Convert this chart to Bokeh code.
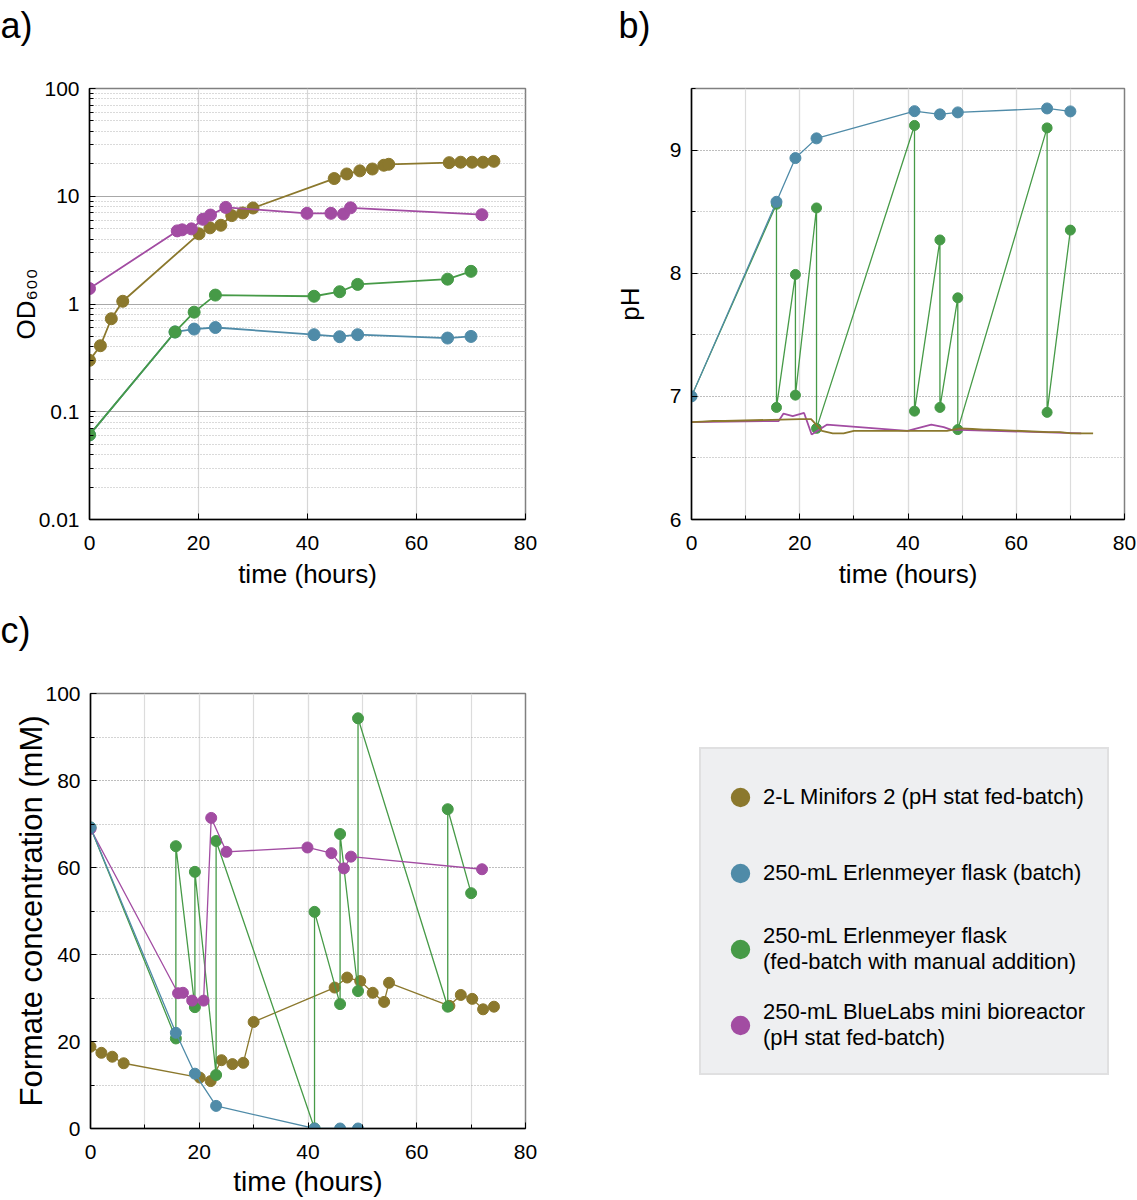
from bokeh.plotting import figure
from bokeh.layouts import column, row
from bokeh.models import (Range1d, LogTicker, SingleIntervalTicker, FixedTicker,
                          Legend, LegendItem)
from bokeh.embed import file_html
from bokeh.resources import INLINE

FONT = "Liberation Sans"
BROWN = "#8b782d"
BLUE = "#4f8ba8"
GREEN = "#469a47"
MAGENTA = "#a24ca2"
NAN = float("nan")

# ---- 2-L Minifors 2 (pH stat fed-batch) ----
minifors_t = [0, 2, 4, 6.1, 20.1, 22.1, 24.1, 26.1, 28.1, 30.0, 44.9, 47.2, 49.6,
              51.9, 54.0, 54.9, 66.0, 68.1, 70.2, 72.2, 74.2]
minifors_od = [0.30, 0.41, 0.73, 1.06, 4.48, 5.09, 5.38, 6.61, 7.0, 7.78, 14.6, 16.1,
               17.2, 17.9, 19.4, 19.8, 20.5, 20.7, 20.7, 20.7, 21.1]
minifors_ph = [6.79, 6.795, 6.80, 6.80, 6.815, 6.815, 6.72, 6.70, 6.70, 6.72, 6.72, 6.72,
               6.74, 6.735, 6.73, 6.73, 6.71, 6.71, 6.70, 6.70, 6.70]
minifors_formate = [18.8, 17.4, 16.5, 15.0, 11.7, 10.9, 15.7, 14.8, 15.1, 24.5, 32.4, 34.7,
                    33.9, 31.2, 29.1, 33.5, 28.2, 30.7, 29.8, 27.4, 28.0]

# ---- 250-mL Erlenmeyer flask (batch) ----
flask_t = [0, 15.7, 19.2, 23.1, 41.2, 45.9, 49.2, 65.7, 70.0]
batch_od = [0.061, 0.55, 0.585, 0.605, 0.519, 0.497, 0.519, 0.483, 0.50]
batch_ph = [7.0, 8.58, 8.935, 9.095, 9.316, 9.29, 9.306, 9.338, 9.314]
batch_formate_t = [0, 15.7, 19.2, 23.1, 41.2, 45.9, 49.2]
batch_formate = [69.2, 22.0, 12.6, 5.2, 0.0, 0.0, 0.0]

# ---- 250-mL Erlenmeyer flask (fed-batch with manual addition) ----
fed_od = [0.061, 0.55, 0.84, 1.21, 1.18, 1.30, 1.52, 1.70, 2.01]
# before / after each manual addition
fed_t = [0, 15.7, 15.7, 19.2, 19.2, 23.1, 23.1, 41.2, 41.2, 45.9, 45.9, 49.2, 49.2,
         65.7, 65.7, 70.0]
fed_ph = [7.0, 8.56, 6.91, 7.99, 7.01, 8.53, 6.74, 9.20, 6.88, 8.27, 6.91, 7.80, 6.73,
          9.18, 6.87, 8.35]
fed_formate = [69.2, 20.7, 64.9, 27.9, 59.0, 12.3, 66.1, 0.0, 49.8, 28.6, 67.7, 31.6,
               94.3, 28.0, 73.4, 54.1]

# ---- 250-mL BlueLabs mini bioreactor (pH stat fed-batch) ----
bluelabs_t = [0, 16.1, 17.0, 18.7, 20.8, 22.2, 25.0, 39.9, 44.3, 46.6, 47.9, 72.0]
bluelabs_od = [1.39, 4.77, 4.88, 4.98, 6.11, 6.69, 7.88, 6.94, 6.94, 6.84, 7.81, 6.74]
bluelabs_ph = [6.79, 6.80, 6.86, 6.84, 6.865, 6.69, 6.77, 6.72, 6.77, 6.75, 6.73, 6.70]
bluelabs_formate = [68.9, 31.1, 31.2, 29.4, 29.4, 71.4, 63.6, 64.6, 63.3, 59.8, 62.5, 59.6]

legend_labels = ["2-L Minifors 2 (pH stat fed-batch)",
                 "250-mL Erlenmeyer flask (batch)",
                 "250-mL Erlenmeyer flask\n(fed-batch with manual addition)",
                 "250-mL BlueLabs mini bioreactor\n(pH stat fed-batch)"]
legend_colors = [BROWN, BLUE, GREEN, MAGENTA]


def make_fig(width, height, left, right, top, bottom, letter, letter_x, **kw):
    p = figure(width=width, height=height, min_border_left=left, min_border_right=right,
               min_border_top=top, min_border_bottom=bottom, toolbar_location=None,
               output_backend="svg", **kw)
    p.outline_line_color = "#808080"
    p.outline_line_width = 1.5
    # panel letter: a two-line title box (second line empty) anchored at its top,
    # so the letter sits high above the frame
    p.title.text = letter + "\n"
    p.title.text_font = FONT
    p.title.text_font_size = "36px"
    p.title.text_font_style = "normal"
    p.title.text_color = "black"
    p.title.text_line_height = 1.0
    p.title.vertical_align = "top"
    p.title.standoff = 0
    p.title.align = "left"
    p.title.offset = letter_x - left
    for ax in (p.xaxis[0], p.yaxis[0]):
        ax.axis_line_color = "black"
        ax.axis_line_width = 1.5
        ax.major_tick_in = 6
        ax.major_tick_out = 0
        ax.minor_tick_in = 4
        ax.minor_tick_out = 0
        ax.major_tick_line_color = "black"
        ax.minor_tick_line_color = "black"
        ax.major_label_text_font = FONT
        ax.major_label_text_font_size = "21px"
        ax.major_label_text_color = "black"
        ax.axis_label_text_font = FONT
        ax.axis_label_text_font_size = "26px"
        ax.axis_label_text_font_style = "normal"
        ax.axis_label_text_color = "black"
    p.xaxis.axis_label = "time (hours)"
    p.xaxis.major_label_standoff = 16
    p.xaxis.axis_label_standoff = 6
    p.yaxis.major_label_standoff = 10
    p.yaxis.axis_label_standoff = -5
    return p


# ---------------- a) OD600 ----------------
pa = make_fig(560, 600, 89, 35, 87, 79, "a)", 0, y_axis_type="log",
              x_range=Range1d(0, 80), y_range=Range1d(0.01, 100))
pa.xaxis.ticker = FixedTicker(ticks=[0, 20, 40, 60, 80])
pa.yaxis.ticker = LogTicker(num_minor_ticks=10)
pa.yaxis.major_label_overrides = {0.01: "0.01", 0.1: "0.1", 1: "1", 10: "10", 100: "100"}
pa.yaxis.axis_label = "OD\u2086\u2080\u2080"
pa.xgrid.ticker = FixedTicker(ticks=[20, 40, 60])
pa.xgrid.grid_line_color = "#d6d6d6"
pa.xgrid.grid_line_width = 1.2
pa.ygrid.grid_line_color = "#a8a8a8"
pa.ygrid.grid_line_width = 1.2
pa.ygrid.minor_grid_line_color = "#b4b4b4"
pa.ygrid.minor_grid_line_dash = "1 2"

for t, v, c in [(minifors_t, minifors_od, BROWN), (bluelabs_t, bluelabs_od, MAGENTA),
                (flask_t, batch_od, BLUE), (flask_t, fed_od, GREEN)]:
    pa.line(t, v, line_color=c, line_width=1.8)
    pa.scatter(t, v, size=12, fill_color=c, line_color=c)

# ---------------- b) pH ----------------
pb = make_fig(577, 600, 131, 13, 88, 81, "b)", 58,
              x_range=Range1d(0, 80), y_range=Range1d(6, 9.5))
pb.xaxis.ticker = SingleIntervalTicker(interval=20, num_minor_ticks=2)
pb.yaxis.ticker = SingleIntervalTicker(interval=1, num_minor_ticks=2)
pb.yaxis.axis_label = "pH"
pb.yaxis.axis_label_standoff = 22
pb.xgrid.grid_line_color = "#dcdcdc"
pb.xgrid.minor_grid_line_color = "#dcdcdc"
pb.xgrid.grid_line_width = 1.2
pb.xgrid.minor_grid_line_width = 1.2
pb.ygrid.grid_line_color = "#a8a8a8"
pb.ygrid.grid_line_dash = "1 2"
pb.ygrid.minor_grid_line_color = "#a8a8a8"
pb.ygrid.minor_grid_line_dash = "1 2"

pb.line(fed_t, fed_ph, line_color=GREEN, line_width=1.3)
pb.scatter(fed_t, fed_ph, size=10, fill_color=GREEN, line_color=GREEN)
pb.line(bluelabs_t, bluelabs_ph, line_color=MAGENTA, line_width=1.8)
pb.line(minifors_t, minifors_ph, line_color=BROWN, line_width=1.8)
pb.line(flask_t, batch_ph, line_color=BLUE, line_width=1.3)
pb.scatter(flask_t, batch_ph, size=11, fill_color=BLUE, line_color=BLUE)

# ---------------- c) formate ----------------
pc = make_fig(560, 600, 90, 35, 93, 72, "c)", 0,
              x_range=Range1d(0, 80), y_range=Range1d(0, 100))
pc.xaxis.ticker = SingleIntervalTicker(interval=20, num_minor_ticks=2)
pc.yaxis.ticker = SingleIntervalTicker(interval=20, num_minor_ticks=2)
pc.yaxis.axis_label = "Formate concentration (mM)"
pc.yaxis.axis_label_text_font_size = "31px"
pc.yaxis.axis_label_standoff = -7
pc.xaxis.axis_label_text_font_size = "28px"
pc.xaxis.axis_label_standoff = 4
pc.xgrid.grid_line_color = "#dcdcdc"
pc.xgrid.minor_grid_line_color = "#dcdcdc"
pc.xgrid.grid_line_width = 1.2
pc.xgrid.minor_grid_line_width = 1.2
pc.ygrid.grid_line_color = "#a8a8a8"
pc.ygrid.grid_line_dash = "1 2"
pc.ygrid.minor_grid_line_color = "#a8a8a8"
pc.ygrid.minor_grid_line_dash = "1 2"

for t, v, c in [(minifors_t, minifors_formate, BROWN), (fed_t, fed_formate, GREEN),
                (bluelabs_t, bluelabs_formate, MAGENTA),
                (batch_formate_t, batch_formate, BLUE)]:
    pc.line(t, v, line_color=c, line_width=1.3)
    pc.scatter(t, v, size=11, fill_color=c, line_color=c)

# ---------------- legend panel ----------------
pl = figure(width=577, height=600, min_border_left=0, min_border_right=0,
            min_border_top=93, min_border_bottom=72, toolbar_location=None,
            output_backend="svg", x_range=Range1d(0, 1), y_range=Range1d(0, 1))
pl.axis.visible = False
pl.grid.visible = False
pl.outline_line_color = None
items = []
for lab, c in zip(legend_labels, legend_colors):
    # key-only renderer: nothing is drawn in the frame, only its legend glyph
    r = pl.scatter(x=[NAN], y=[NAN], size=10, fill_color=c, line_color=c, line_width=9)
    items.append(LegendItem(label=lab, renderers=[r]))
leg = Legend(items=items, location=(139, 53), label_text_font=FONT,
             label_text_font_size="22px", label_text_color="black",
             glyph_width=34, glyph_height=26, label_height=52, label_standoff=6,
             padding=22, spacing=24, margin=0,
             background_fill_color="#eeeff1", background_fill_alpha=1.0,
             border_line_color="#d2d2d2", border_line_width=2)
pl.add_layout(leg)

layout = column(row(pa, pb), row(pc, pl))
open("out.html", "w").write(file_html(layout, INLINE))
